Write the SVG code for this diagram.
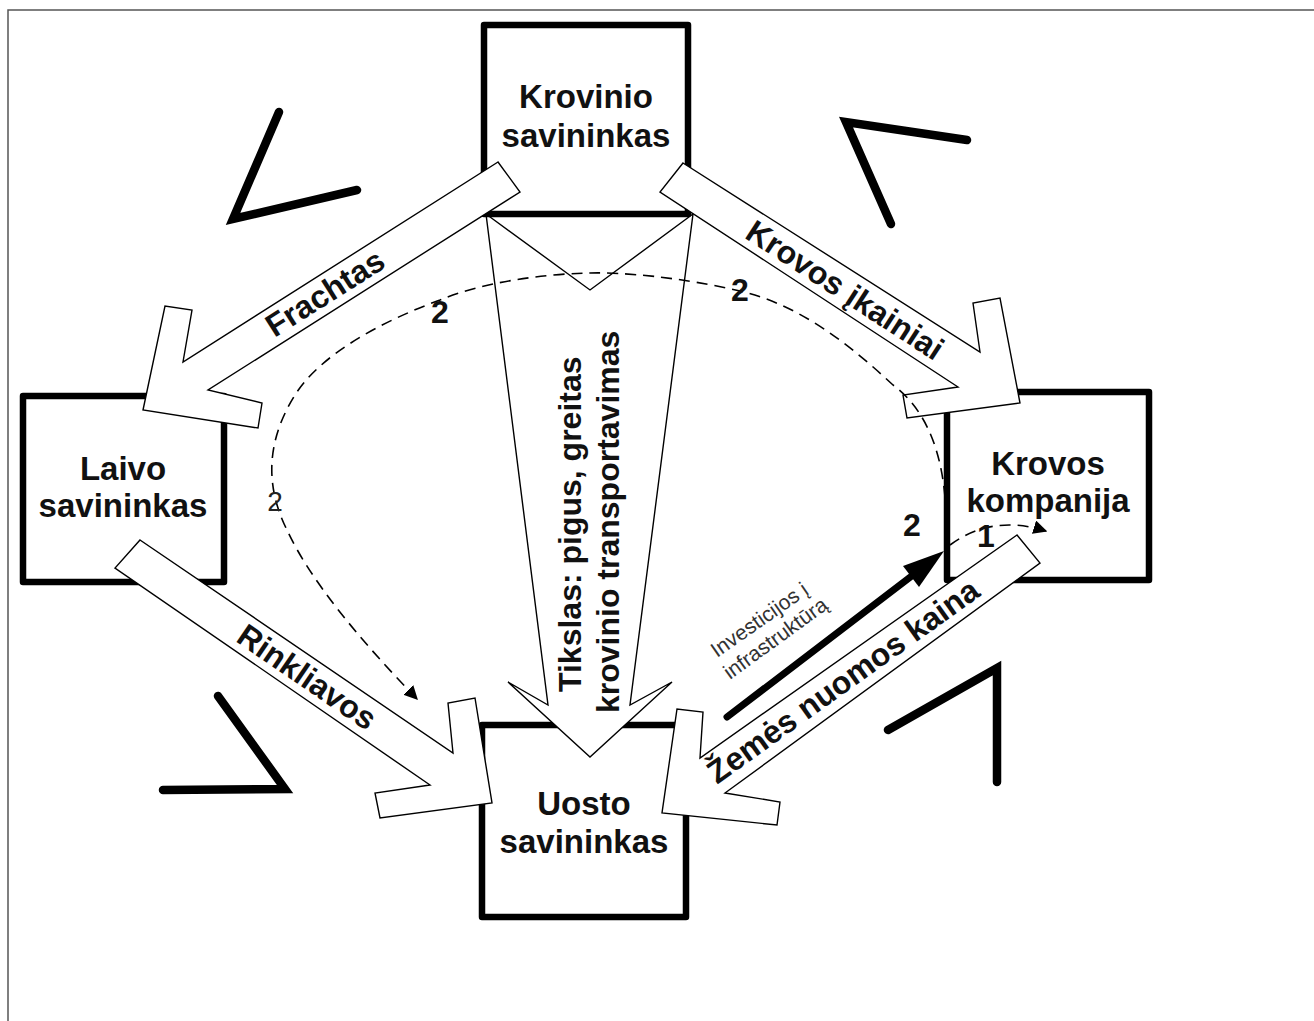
<svg xmlns="http://www.w3.org/2000/svg" width="1314" height="1021" viewBox="0 0 1314 1021">
  <defs>
    <style>
      .frame { fill: none; stroke: #555; stroke-width: 1.5; }
      .box { fill: #fff; stroke: #000; stroke-width: 6.5; stroke-linejoin: round; }
      .lbl { font-family: "Liberation Sans", Arial, sans-serif; font-weight: bold; font-size: 33px; fill: #111; text-anchor: middle; }
      .blk { fill: #fff; stroke: #000; stroke-width: 1.4; stroke-linejoin: miter; }
      .atxt { font-family: "Liberation Sans", Arial, sans-serif; font-weight: bold; font-size: 32px; fill: #111; text-anchor: middle; }
      .vtxt { font-family: "Liberation Sans", Arial, sans-serif; font-weight: bold; font-size: 32px; fill: #111; }
      .small { font-family: "Liberation Sans", Arial, sans-serif; font-size: 21px; fill: #333; }
      .num { font-family: "Liberation Sans", Arial, sans-serif; font-weight: bold; font-size: 32px; fill: #111; text-anchor: middle; }
      .numr { font-family: "Liberation Sans", Arial, sans-serif; font-size: 28px; fill: #222; text-anchor: middle; }
      .chev { fill: none; stroke: #000; stroke-width: 8.5; stroke-linecap: round; stroke-linejoin: miter; }
      .dash { fill: none; stroke: #000; stroke-width: 1.6; stroke-dasharray: 11 7; }
    </style>
    <marker id="tri" viewBox="0 0 10 10" refX="9" refY="5" markerWidth="14" markerHeight="14" markerUnits="userSpaceOnUse" orient="auto">
      <path d="M0,0 L10,5 L0,10 Z" fill="#000"/>
    </marker>
  </defs>

  <!-- outer frame -->
  <path class="frame" d="M8,1021 L8,10 L1314,10"/>

  <!-- decorative chevrons -->
  <g id="chevrons">
    <polyline class="chev" points="279,112 233,219 357,190"/>
    <polyline class="chev" points="967,140 846,122 891,224"/>
    <polyline class="chev" points="218,696 285,789 163,790"/>
    <polyline class="chev" points="888,730 997,668 997,782"/>
  </g>

  <!-- Uosto savininkas (drawn under central arrow) -->
  <g id="node-uosto">
    <rect class="box" x="482" y="725" width="204" height="192"/>
    <text class="lbl" x="584" y="815">Uosto</text>
    <text class="lbl" x="584" y="853">savininkas</text>
  </g>

  <!-- central goal arrow -->
  <g id="goal-arrow">
    <polygon class="blk" points="486,214 590,290 693,214 630,705 672,682 590,757 508,682 548,705"/>
    <text class="vtxt" transform="translate(581,692) rotate(-90)">Tikslas: pigus, greitas</text>
    <text class="vtxt" transform="translate(619,713) rotate(-90)">krovinio transportavimas</text>
  </g>

  <!-- Krovinio savininkas -->
  <g id="node-krovinio">
    <rect class="box" x="484" y="25" width="204" height="189"/>
    <text class="lbl" x="586" y="108">Krovinio</text>
    <text class="lbl" x="586" y="147">savininkas</text>
  </g>

  <!-- Laivo savininkas -->
  <g id="node-laivo">
    <rect class="box" x="23" y="396" width="201" height="186"/>
    <text class="lbl" x="123" y="480">Laivo</text>
    <text class="lbl" x="123" y="517">savininkas</text>
  </g>

  <!-- Krovos kompanija -->
  <g id="node-krovos">
    <rect class="box" x="947" y="392" width="202" height="188"/>
    <text class="lbl" x="1048" y="475">Krovos</text>
    <text class="lbl" x="1048" y="512">kompanija</text>
  </g>

  <!-- connectors -->
  <g id="connectors">
    <g id="c-frachtas">
      <polygon class="blk" points="498,162 183,362 192,310 165,306 143,410 258,428 262,403 208,390 520,192"/>
      <text class="atxt" transform="translate(325,293) rotate(-32.4)" y="11">Frachtas</text>
    </g>
    <g id="c-krovos-ikainiai">
      <polygon class="blk" points="683,163 980,352 973,303 1000,298 1020,403 907,418 903,395 958,387 660,192"/>
      <text class="atxt" transform="translate(845,290) rotate(33)" y="11">Krovos įkainiai</text>
    </g>
    <g id="c-rinkliavos">
      <polygon class="blk" points="140,540 453,753 448,703 475,698 492,803 380,818 375,793 430,785 115,568"/>
      <text class="atxt" transform="translate(307,677) rotate(34.4)" y="11">Rinkliavos</text>
    </g>
    <g id="c-zemes">
      <polygon class="blk" points="1017,535 700,758 703,712 677,709 662,813 777,825 780,802 725,793 1040,563"/>
      <text class="atxt" transform="translate(843,681) rotate(-35.6)" y="11">Žemės nuomos kaina</text>
    </g>
    <g id="c-investicijos">
      <line x1="727" y1="717" x2="913" y2="575" stroke="#000" stroke-width="7" stroke-linecap="round"/>
      <polygon points="944,551 903,566 919,587" fill="#000"/>
      <text class="small" transform="translate(717,658) rotate(-35)">Investicijos į</text>
      <text class="small" transform="translate(730,680) rotate(-36)">infrastruktūrą</text>
    </g>
    <g id="c-dashed">
      <path class="dash" marker-end="url(#tri)" d="M945,497 C940,440 920,405 893,385 C850,345 800,305 740,291 C680,277 620,272 590,273 C540,274 480,283 440,300 C380,322 320,355 295,395 C270,435 262,480 287,530 C310,580 360,640 417,699"/>
      <path class="dash" marker-end="url(#tri)" d="M950,545 Q992,514 1046,531"/>
    </g>
    <g id="labels">
      <text class="num" x="440" y="323">2</text>
      <text class="num" x="740" y="301">2</text>
      <text class="num" x="912" y="536">2</text>
      <text class="num" x="986" y="547">1</text>
      <text class="numr" x="275" y="511">2</text>
    </g>
  </g>
</svg>
